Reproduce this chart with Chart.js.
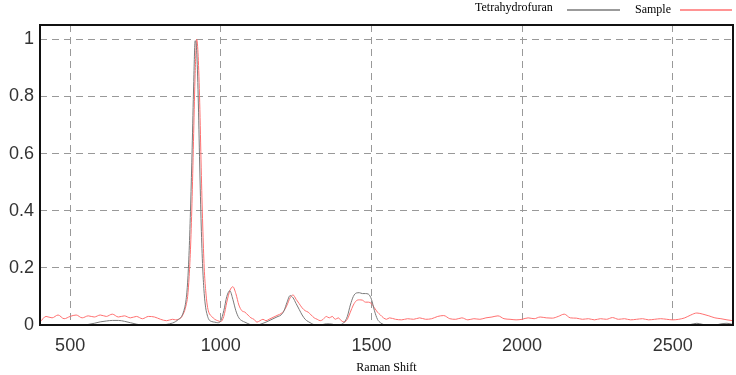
<!DOCTYPE html>
<html>
<head>
<meta charset="utf-8">
<script src="https://cdn.jsdelivr.net/npm/chart.js@4/dist/chart.umd.min.js"></script>
<style>
  html, body { margin: 0; padding: 0; background: #fff; }
  #wrap { position: relative; width: 736px; height: 375px; }
</style>
</head>
<body>
<div id="wrap"><canvas id="chart"></canvas></div>
<script>
// Raman shift positions (cm-1)
const shift = [
  400, 420, 440, 460, 480, 500, 520, 540, 560, 580, 600, 620, 640, 660, 680, 700, 720, 740, 760, 780, 800, 820, 840,
  850, 860, 870,
  880, 885, 890, 895, 900, 905, 910, 915, 920, 925, 930, 935, 940, 945, 950, 955, 960,
  970, 980, 990, 1000, 1010, 1020, 1030, 1040, 1050, 1060, 1070, 1080, 1090, 1100,
  1110, 1120, 1130, 1140, 1150, 1160, 1170, 1180, 1190, 1200, 1210, 1220, 1230, 1240, 1250,
  1260, 1270, 1280, 1290, 1300, 1310, 1320, 1330, 1340, 1350, 1360, 1370, 1380, 1390, 1400,
  1410, 1420, 1430, 1440, 1450, 1460, 1470, 1480, 1490, 1500, 1510, 1520, 1530, 1540, 1550, 1560,
  1580, 1600, 1620, 1640, 1660, 1680, 1700, 1720, 1740, 1760, 1780, 1800, 1820, 1840, 1860, 1880, 1900,
  1920, 1940, 1960, 1980, 2000, 2020, 2040, 2060, 2080, 2100, 2120, 2140, 2160, 2180, 2200, 2220, 2240,
  2260, 2280, 2300, 2320, 2340, 2360, 2380, 2400, 2420, 2440, 2460, 2480, 2500, 2520, 2540, 2560, 2580,
  2600, 2620, 2640, 2660, 2680, 2700
];

const thf = [
  0, 0, 0, 0, 0, 0, 0, 0, 0.002, 0.006, 0.011, 0.014, 0.016, 0.016, 0.013, 0.008, 0.003, 0, 0, 0, 0, 0.002, 0.007,
  0.012, 0.02, 0.03,
  0.06, 0.09, 0.15, 0.26, 0.42, 0.62, 0.84, 0.995, 0.96, 0.8, 0.56, 0.35, 0.2, 0.11, 0.06, 0.035, 0.02,
  0.012, 0.01, 0.008, 0.015, 0.05, 0.1, 0.12, 0.09, 0.05, 0.025, 0.015, 0.01, 0.005, 0.001,
  0, 0, 0.002, 0.006, 0.01, 0.015, 0.02, 0.025, 0.03, 0.035, 0.05, 0.08, 0.103, 0.095, 0.075,
  0.055, 0.035, 0.02, 0.012, 0.006, 0.001, 0, 0, 0.002, 0.004, 0.004, 0.003, 0, 0, 0.002,
  0.01, 0.03, 0.07, 0.1, 0.112, 0.113, 0.11, 0.11, 0.108, 0.09, 0.05, 0.02, 0.008, 0.002, 0, 0,
  0, 0, 0, 0, 0, 0, 0, 0, 0, 0, 0, 0, 0, 0, 0, 0, 0,
  0, 0, 0, 0, 0, 0, 0, 0, 0, 0, 0, 0, 0, 0, 0, 0, 0,
  0, 0, 0, 0, 0, 0, 0, 0, 0, 0, 0, 0, 0, 0, 0, 0.002, 0.006,
  0.002, 0, 0, 0.004, 0.006, 0.002
];

const sample = [
  0.01, 0.03, 0.025, 0.035, 0.022, 0.03, 0.035, 0.025, 0.032, 0.028, 0.035, 0.03, 0.038, 0.028, 0.032, 0.025, 0.03, 0.022, 0.03, 0.028, 0.02, 0.015, 0.02,
  0.018, 0.02, 0.028,
  0.05, 0.07, 0.1, 0.17, 0.28, 0.45, 0.67, 0.88, 1.0, 0.94, 0.78, 0.55, 0.35, 0.2, 0.12, 0.07, 0.045,
  0.03, 0.02, 0.015, 0.012, 0.03, 0.08, 0.12, 0.134, 0.11, 0.07, 0.05, 0.045, 0.035, 0.025,
  0.02, 0.01, 0.015, 0.02, 0.015, 0.02, 0.025, 0.03, 0.035, 0.04, 0.05, 0.07, 0.095, 0.105, 0.09,
  0.075, 0.06, 0.05, 0.045, 0.035, 0.025, 0.02, 0.015, 0.02, 0.03, 0.025, 0.03, 0.02, 0.025, 0.015,
  0.01, 0.02, 0.045, 0.07, 0.085, 0.088, 0.087, 0.08, 0.08, 0.075, 0.06, 0.045, 0.035, 0.025, 0.02, 0.025,
  0.02, 0.018, 0.022, 0.02, 0.025, 0.02, 0.022, 0.03, 0.033, 0.022, 0.02, 0.025, 0.018, 0.022, 0.02, 0.025, 0.028,
  0.032, 0.022, 0.02, 0.018, 0.02, 0.025, 0.022, 0.028, 0.025, 0.024, 0.03, 0.038, 0.025, 0.024, 0.02, 0.022, 0.018,
  0.022, 0.02, 0.026, 0.02, 0.022, 0.018, 0.02, 0.022, 0.018, 0.02, 0.022, 0.02, 0.018, 0.02, 0.025, 0.035, 0.042,
  0.038, 0.032, 0.025, 0.022, 0.018, 0.015
];

const xTicks = [500, 1000, 1500, 2000, 2500];
const yTicks = [0, 0.2, 0.4, 0.6, 0.8, 1];

const GRAY = '#7a7a7a';
const PINK = '#ff7070';

const toPoints = (ys) => ys.map((y, i) => ({ x: shift[i], y: y }));

// frame round the plot + serif legend at top right (text before the line sample)
const framePlugin = {
  id: 'frame',
  afterDraw(chart) {
    const { ctx, chartArea: a } = chart;
    ctx.save();
    ctx.strokeStyle = '#111';
    ctx.lineWidth = 2;
    ctx.strokeRect(a.left, a.top, a.right - a.left, a.bottom - a.top);

    ctx.font = '12px "Liberation Serif", "Times New Roman", serif';
    ctx.fillStyle = '#000';
    ctx.textBaseline = 'middle';
    const items = [
      { label: chart.data.datasets[0].label, color: GRAY, tx: 475, ty: 8, lx: 567, lw: 53 },
      { label: chart.data.datasets[1].label, color: PINK, tx: 635, ty: 10, lx: 680, lw: 52 }
    ];
    items.forEach(it => {
      ctx.fillText(it.label, it.tx, it.ty);
      ctx.strokeStyle = it.color;
      ctx.lineWidth = 1.5;
      ctx.beginPath();
      ctx.moveTo(it.lx, 10);
      ctx.lineTo(it.lx + it.lw, 10);
      ctx.stroke();
    });
    ctx.restore();
  }
};

new Chart(document.getElementById('chart'), {
  type: 'line',
  data: {
    datasets: [
      { label: 'Tetrahydrofuran', data: toPoints(thf), borderColor: GRAY, borderWidth: 1, pointRadius: 0, cubicInterpolationMode: 'monotone' },
      { label: 'Sample', data: toPoints(sample), borderColor: PINK, borderWidth: 1, pointRadius: 0, cubicInterpolationMode: 'monotone' }
    ]
  },
  options: {
    responsive: true,
    maintainAspectRatio: false,
    animation: false,
    layout: { padding: { top: 25, right: 3, left: 0, bottom: 0 } },
    plugins: { legend: { display: false }, tooltip: { enabled: false } },
    scales: {
      x: {
        type: 'linear', min: 400, max: 2700,
        afterBuildTicks: (s) => { s.ticks = xTicks.map(v => ({ value: v })); },
        afterFit: (s) => { s.height = 50; },
        grid: { color: '#999', lineWidth: 1, drawTicks: false },
        border: { display: false, dash: [7, 5] },
        ticks: { color: '#333', padding: 10, font: { family: 'Liberation Sans, Arial, sans-serif', size: 18 }, maxRotation: 0, callback: (v) => String(v) },
        title: { display: true, text: 'Raman Shift', color: '#000', padding: { top: 0, bottom: 0 }, font: { family: 'Liberation Serif, Times New Roman, serif', size: 12 } }
      },
      y: {
        min: 0, max: 1.05,
        afterBuildTicks: (s) => { s.ticks = yTicks.map(v => ({ value: v })); },
        afterFit: (s) => { s.width = 40; },
        grid: { color: (c) => c.tick && c.tick.value === 0 ? 'rgba(0,0,0,0)' : '#999', lineWidth: 1, drawTicks: false },
        border: { display: false, dash: [7, 5] },
        ticks: { color: '#333', padding: 6, font: { family: 'Liberation Sans, Arial, sans-serif', size: 18 }, callback: (v) => String(v) }
      }
    }
  },
  plugins: [framePlugin]
});
</script>
</body>
</html>
